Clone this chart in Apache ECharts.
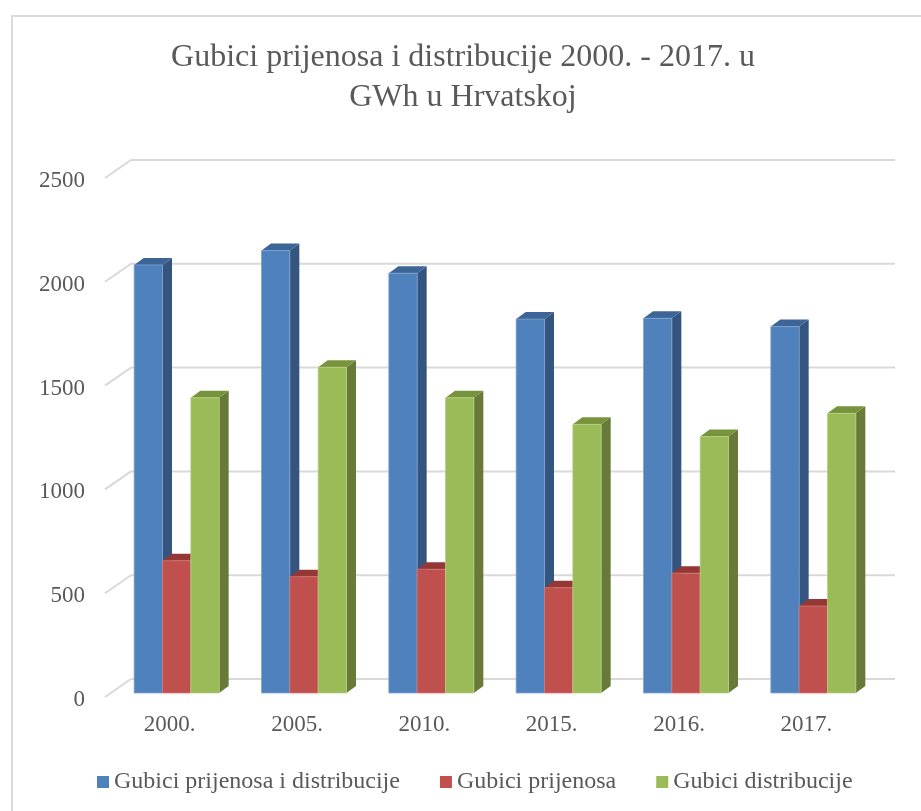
<!DOCTYPE html>
<html>
<head>
<meta charset="utf-8">
<script src="https://cdn.jsdelivr.net/npm/echarts@6/dist/echarts.min.js"></script>
<style>
  html, body { margin: 0; padding: 0; background: #fff; overflow: hidden; }
  #frame { position: absolute; left: 11px; top: 15px; width: 1000px; height: 900px;
           border-left: 2px solid #dadada; border-top: 2px solid #dadada; }
  #chart { position: absolute; left: 0; top: 0; width: 921px; height: 811px; }
</style>
</head>
<body>
<div id="frame"></div>
<div id="chart"></div>
<script>
const years = ["2000.", "2005.", "2010.", "2015.", "2016.", "2017."];
const ukupno = [2062, 2131, 2022, 1801, 1805, 1765];
const prijenos = [637, 560, 596, 507, 577, 419];
const distribucija = [1422, 1569, 1422, 1294, 1235, 1347];
const yTicks = [0, 500, 1000, 1500, 2000, 2500];

const FONT = "'Liberation Serif', 'Times New Roman', serif";
const TEXT = "#595959";

// 3d look: depth of the bars and where the back wall / front edge sit
const DX = 9.5, DY = 7;
const BACK_DX = 18, BACK_DY = -14;
const FRONT_DX = -8, FRONT_DY = 4;
const BAR_RATIO = 0.2225;

const chart = echarts.init(document.getElementById("chart"), null, { renderer: "canvas" });

function renderGrid(params, api) {
  const cs = params.coordSys;
  const y = api.coord([0, api.value(1)])[1];
  const style = { stroke: "#d9d9d9", lineWidth: 2 };
  return {
    type: "group",
    children: [
      { type: "line", shape: { x1: cs.x + FRONT_DX, y1: y + FRONT_DY, x2: cs.x + BACK_DX, y2: y + BACK_DY }, style },
      { type: "line", shape: { x1: cs.x + BACK_DX, y1: y + BACK_DY, x2: cs.x + cs.width + BACK_DX, y2: y + BACK_DY }, style },
    ],
  };
}

function barRender(idx, c) {
  return (params, api) => {
    const cat = api.value(0);
    const top = api.coord([cat, api.value(1)]);
    const base = api.coord([cat, 0]);
    const bw = api.size([1, 0])[0] * BAR_RATIO;
    const x0 = top[0] - 1.5 * bw + idx * bw;
    const x1 = x0 + bw;
    const yt = top[1], yb = base[1];
    return {
      type: "group",
      children: [
        { type: "polygon", shape: { points: [[x1, yb], [x1, yt], [x1 + DX, yt - DY], [x1 + DX, yb - DY]] },
          style: { fill: c.side } },
        { type: "polygon", shape: { points: [[x0, yt], [x1, yt], [x1 + DX, yt - DY], [x0 + DX, yt - DY]] },
          style: { fill: c.top } },
        { type: "rect", shape: { x: x0, y: yt, width: bw, height: yb - yt },
          style: { fill: c.front, stroke: c.edge, lineWidth: 0.8 } },
      ],
    };
  };
}

const COLORS = [
  { front: "#4f81bd", side: "#34557f", top: "#3d6597", edge: "#7fa3d0" },
  { front: "#c0504d", side: "#82302e", top: "#953735", edge: "#d27a77" },
  { front: "#9bbb59", side: "#677a37", top: "#77933c", edge: "#b6cf86" },
];
const names = ["Gubici prijenosa i distribucije", "Gubici prijenosa", "Gubici distribucije"];
const values = [ukupno, prijenos, distribucija];

const barSeries = values.map((vals, i) => ({
  name: names[i],
  type: "custom",
  renderItem: barRender(i, COLORS[i]),
  itemStyle: { color: COLORS[i].front },
  encode: { x: 0, y: 1 },
  data: vals.map((v, k) => [k, v]),
  z: 3,
}));

chart.setOption({
  animation: false,
  backgroundColor: "transparent",
  title: {
    text: "Gubici prijenosa i distribucije 2000. - 2017. u\nGWh u Hrvatskoj",
    left: 458,
    top: 33,
    textAlign: "center",
    textStyle: { fontFamily: FONT, fontSize: 32, fontWeight: "normal", color: TEXT, lineHeight: 40, align: "center" },
  },
  legend: {
    data: names,
    left: 97,
    top: 770,
    padding: 0,
    icon: "rect",
    itemWidth: 12,
    itemHeight: 12,
    itemGap: 40,
    textStyle: { fontFamily: FONT, fontSize: 24, color: TEXT },
  },
  grid: { left: 113, right: 44, top: 174, bottom: 118, containLabel: false },
  xAxis: {
    type: "category",
    data: years,
    axisLine: { show: false },
    axisTick: { show: false },
    axisLabel: { fontFamily: FONT, fontSize: 23, color: TEXT, margin: 20, padding: [0, 14, 0, 0] },
  },
  yAxis: {
    type: "value",
    min: 0,
    max: 2500,
    interval: 500,
    axisLine: { show: false },
    axisTick: { show: false },
    splitLine: { show: false },
    axisLabel: {
      fontFamily: FONT, fontSize: 23, color: TEXT, margin: 28,
      verticalAlign: "top", lineHeight: 14,
      formatter: v => String(v),
    },
  },
  series: [
    {
      type: "custom",
      renderItem: renderGrid,
      encode: { x: 0, y: 1 },
      data: yTicks.map(v => [0, v]),
      silent: true,
      z: 1,
    },
    ...barSeries,
  ],
});
</script>
</body>
</html>
